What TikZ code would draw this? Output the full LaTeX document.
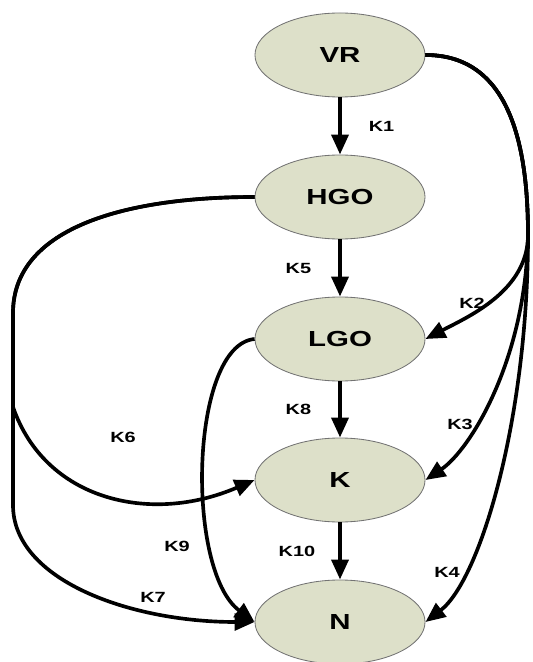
\documentclass[tikz,border=0pt]{standalone}
\usepackage{xcolor}
\usepackage{tikz}
\usepackage{fontspec}
\setsansfont{Liberation Sans}[FakeStretch=1.35]
\usetikzlibrary{shapes.geometric, arrows.meta, positioning, calc}

\definecolor{stateFill}{RGB}{221,224,201}
\definecolor{stateEdge}{RGB}{115,115,115}

\begin{document}
\begin{tikzpicture}[x=0.025cm, y=-0.025cm,
        state/.style={ellipse, draw=stateEdge, line width=0.6pt, fill=stateFill,
            minimum width=4.25cm, minimum height=2.1cm,
            font=\sffamily\bfseries\fontsize{15.5}{18}\selectfont},
        flow/.style={line width=2.6pt, -{Triangle[length=0.5cm,width=0.42cm]}},
        rate/.style={font=\sffamily\bfseries\fontsize{10.5}{12}\selectfont}]
        \useasboundingbox (0,0) rectangle (532,662);

        % Especes
        \node[state] (VR)  at (340,55)  {VR};
        \node[state] (HGO) at (340,197) {HGO};
        \node[state] (LGO) at (340,339) {LGO};
        \node[state] (K)   at (340,480) {K};
        \node[state] (N)   at (340,622) {N};

        % Chaine principale
        \draw[flow, line width=3pt] (VR) -- (HGO) node[rate, midway, right=0.55cm] (k1) {K1};
        \draw[flow, line width=3pt] (HGO) -- (LGO) node[rate, midway, left=0.55cm] (k5) {K5};
        \draw[flow, line width=3pt] (LGO) -- (K) node[rate, midway, left=0.55cm] (k8) {K8};
        \draw[flow, line width=3pt] (K) -- (N) node[rate, midway, left=0.45cm] (k10) {K10};

        % Branches a droite (depuis VR)
        \coordinate (rsplit) at (528,235);
        \draw[flow] (VR.east) .. controls (505,55) and (528,135) .. (rsplit)
            .. controls (528,290) and (470,316) .. (LGO.east);
        \draw[flow] (VR.east) .. controls (505,55) and (528,135) .. (rsplit)
            .. controls (526,360) and (470,450) .. (K.east);
        \draw[flow] (VR.east) .. controls (505,55) and (528,135) .. (rsplit)
            .. controls (528,420) and (480,580) .. (N.east);
        \node[rate] (k2) at (472,303) {K2};
        \node[rate] (k3) at (460,424) {K3};
        \node[rate] (k4) at (447,572) {K4};

        % Branches a gauche
        \coordinate (ltop) at (13,313);
        \coordinate (lsplit) at (13,407);
        \coordinate (lbot) at (13,505);
        \draw[flow] (HGO.west) .. controls (120,197) and (13,230) .. (ltop) -- (lsplit)
            .. controls (45,500) and (150,525) .. (K.west);
        \draw[flow] (HGO.west) .. controls (120,197) and (13,230) .. (ltop) -- (lbot)
            .. controls (13,580) and (130,622) .. (N.west);
        \draw[flow] (LGO.west) .. controls (190,345) and (185,570) .. (N.west);
        \node[rate] (k6) at (123,437) {K6};
        \node[rate] (k9) at (177,546) {K9};
        \node[rate] (k7) at (153,597) {K7};
    \end{tikzpicture}
\end{document}
